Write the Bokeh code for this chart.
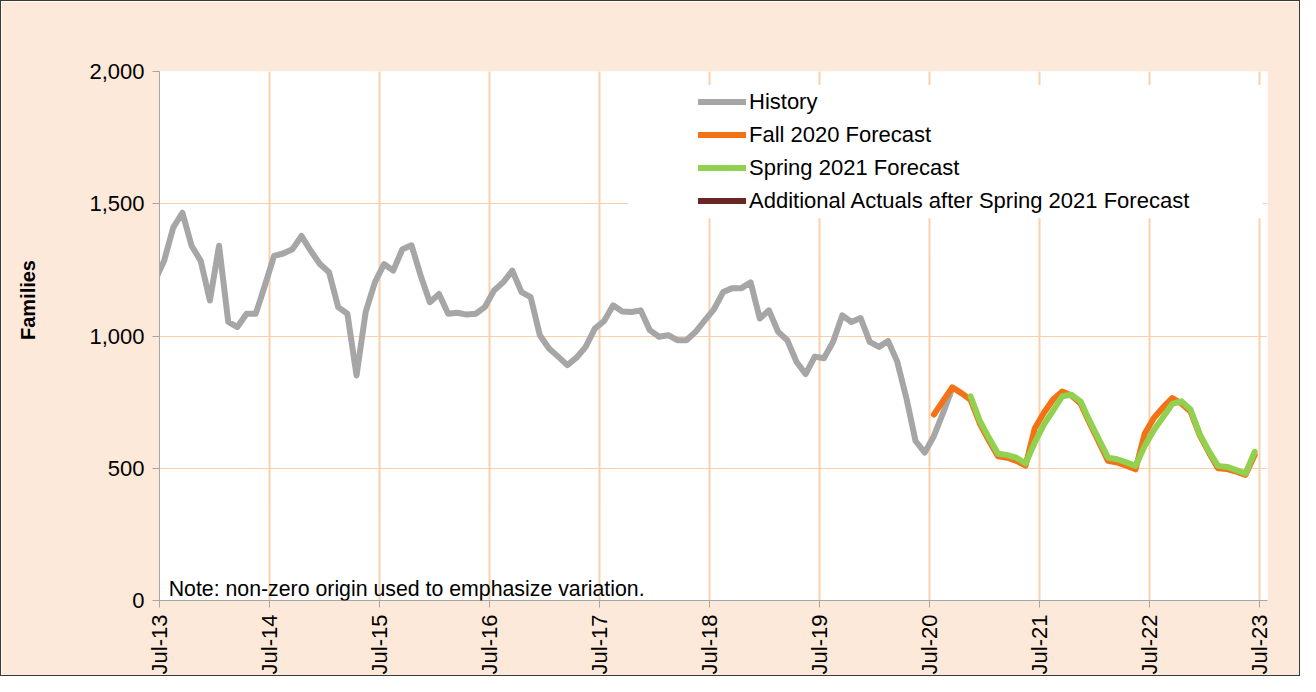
import math
import numpy as np
from bokeh.plotting import figure
from bokeh.models import (Range1d, FixedTicker, Legend, LegendItem, Label,
                          BoxAnnotation, NumeralTickFormatter)
from bokeh.embed import file_html
from bokeh.resources import INLINE

# ---- data (month index 0 = Jul-13; points sit mid-month) ----
tick_months = [0, 12, 24, 36, 48, 60, 72, 84, 96, 108, 120]
tick_labels = ["Jul-13", "Jul-14", "Jul-15", "Jul-16", "Jul-17", "Jul-18",
               "Jul-19", "Jul-20", "Jul-21", "Jul-22", "Jul-23"]
y_ticks = [0, 500, 1000, 1500, 2000]

history_start = -1  # Jun-13
history = [1210, 1284, 1410, 1466, 1341, 1284, 1134, 1341, 1053, 1034, 1084, 1084, 1191,
           1303, 1312, 1328, 1378, 1322, 1272, 1241, 1109, 1084, 851, 1091, 1203,
           1272, 1247, 1328, 1343, 1228, 1128, 1159, 1084, 1088, 1081, 1084, 1109,
           1172, 1203, 1247, 1166, 1147, 1003, 953, 922, 890, 918, 959, 1028,
           1056, 1116, 1093, 1091, 1097, 1022, 997, 1003, 984, 984, 1016, 1059,
           1101, 1166, 1181, 1181, 1203, 1066, 1097, 1016, 984, 903, 856, 922,
           916, 978, 1078, 1053, 1068, 978, 959, 981, 903, 765, 603, 559, 622, 709, 803]

fall2020_start = 84  # Jul-20
fall2020 = [703, 755, 806, 784, 759, 670, 605, 545, 540, 528, 510,
            650, 710, 760, 790, 775, 745, 670, 600, 528, 522, 510, 496,
            630, 690, 730, 765, 745, 715, 625, 560, 500, 497, 487, 475, 550]

spring2021_start = 88  # Nov-20
spring2021 = [772, 680, 615, 555, 550, 540, 518,
              597, 665, 718, 772, 778, 753, 678, 609, 540, 534, 522, 509,
              584, 645, 693, 743, 753, 722, 630, 565, 509, 505, 493, 480, 562]

# no additional actuals are visible in the chart (legend entry only)
additional_actuals_x = [np.nan]
additional_actuals = [np.nan]


def xs(start, vals):
    return list(np.arange(len(vals)) + start + 0.5)


FONT = "Liberation Sans"
BG = "#FDE9D9"
GRID = "#F8D0AC"

p = figure(width=1300, height=676, output_backend="svg", toolbar_location=None,
           x_range=Range1d(0, 120.9), y_range=Range1d(0, 2000),
           min_border_left=158, min_border_right=34, min_border_top=70,
           min_border_bottom=75)
p.styles = {"border": "1px solid #3a3a3a"}
p.border_fill_color = BG
p.background_fill_color = "white"
p.outline_line_color = None

# grids
p.xgrid.ticker = FixedTicker(ticks=tick_months)
p.xgrid.grid_line_color = GRID
p.xgrid.grid_line_width = 2
p.ygrid.ticker = FixedTicker(ticks=[500, 1000, 1500])
p.ygrid.grid_line_color = GRID
p.ygrid.grid_line_width = 1

# axes
for ax in (p.xaxis[0], p.yaxis[0]):
    ax.axis_line_color = "#A6A6A6"
    ax.major_tick_line_color = "#A6A6A6"
    ax.major_tick_out = 7
    ax.major_tick_in = 0
    ax.minor_tick_line_color = None
    ax.major_label_text_font = FONT
    ax.major_label_text_font_size = "22px"
    ax.major_label_text_color = "black"

p.xaxis.ticker = FixedTicker(ticks=tick_months)
p.xaxis.major_label_overrides = {m: l for m, l in zip(tick_months, tick_labels)}
p.xaxis.major_label_orientation = math.pi / 2
p.xaxis.major_label_standoff = 7

p.yaxis.ticker = FixedTicker(ticks=y_ticks)
p.yaxis.formatter = NumeralTickFormatter(format="0,0")
p.yaxis.major_label_standoff = 8

# value-axis title (placed in the left side panel so it is not clipped)
ylab = Label(x=-14.3, y=1136, text="Families", angle=math.pi / 2,
             text_font=FONT, text_font_size="20px", text_font_style="bold",
             text_color="black", text_align="center", text_baseline="middle")
p.add_layout(ylab, "left")

# white legend panel
panel = BoxAnnotation(left=51.2, right=120.35, top=1949, bottom=1445,
                      fill_color="white", fill_alpha=1.0, line_color=None,
                      level="underlay")
p.add_layout(panel)

kw = dict(line_width=6, line_join="round", line_cap="round")
r_hist = p.line(xs(history_start, history), history, line_color="#A6A6A6", **kw)
r_fall = p.line(xs(fall2020_start, fall2020), fall2020, line_color="#F47216", **kw)
r_spring = p.line(xs(spring2021_start, spring2021), spring2021, line_color="#92D050", **kw)
r_add = p.line(additional_actuals_x, additional_actuals, line_color="#6B2525", **kw)

legend = Legend(items=[
    LegendItem(label="History", renderers=[r_hist]),
    LegendItem(label="Fall 2020 Forecast", renderers=[r_fall]),
    LegendItem(label="Spring 2021 Forecast", renderers=[r_spring]),
    LegendItem(label="Additional Actuals after Spring 2021 Forecast", renderers=[r_add]),
], location=(539, 383), padding=0, margin=0, spacing=0,
    glyph_width=48, glyph_height=33, label_height=33, label_standoff=3,
    label_text_font=FONT, label_text_font_size="22px", label_text_color="black",
    background_fill_alpha=0, border_line_color=None)
p.add_layout(legend)

note = Label(x=1.0, y=43, text="Note: non-zero origin used to emphasize variation.",
             text_font=FONT, text_font_size="21.3px", text_color="black",
             text_baseline="alphabetic", text_align="left")
p.add_layout(note)

open("out.html", "w").write(file_html(p, INLINE))
